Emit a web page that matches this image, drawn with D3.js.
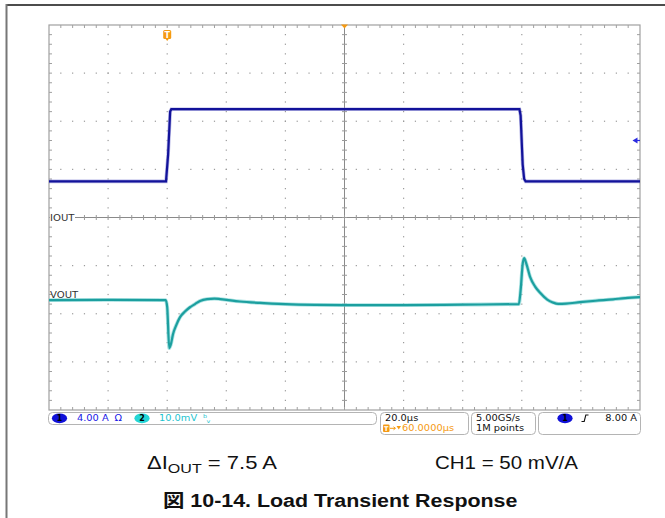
<!DOCTYPE html>
<html>
<head>
<meta charset="utf-8">
<script src="https://cdn.jsdelivr.net/npm/d3@7"></script>
<style>
  html, body { margin: 0; padding: 0; background: #fff; }
  svg { display: block; }
</style>
</head>
<body>
<svg id="chart" width="665" height="518"></svg>
<script>
// ---- Acquisition settings ----
const timePerDiv = 20;            // µs/div
const timeWindow = [-40, 160];    // µs, trigger at t = 0
const ioutPerDiv = 5;             // A/div (50 mV/A probe)
const voutPerDiv = 10;            // mV/div
const voutRefDiv = -1.715;        // VOUT reference position, divisions from centre
const triggerLevel = 8.0;         // A

// ---- CH1: load current step (A) ----
const ioutTime = [-40, -0.4, 0.3, 1.0, 1.4, 119.2, 119.6, 120.3, 120.8, 121.3, 160];
const ioutAmps = [3.75, 3.75, 6.5, 11.0, 11.25, 11.25, 10.6, 5.5, 4.0, 3.75, 3.75];

// ---- CH2: output voltage deviation (mV, AC) ----
const voutTime = [-40, -20, -0.5, 0, 0.7, 1.2, 2.0, 3.0, 4.3, 6.0, 7.7, 9.5, 11.1, 13.5, 16, 18,
                  24.6, 31.4, 40, 50, 60, 80, 100, 119, 119.6, 120.3, 120.8, 121.5, 122.8, 124.5,
                  126.2, 128.6, 130.5, 132.3, 135, 139.7, 145, 150.9, 155, 160];
const voutMv   = [0, 0.05, 0, -1.5, -10.0, -9.3, -7.0, -5.3, -3.6, -2.4, -1.5, -0.8, -0.2, 0.2, 0.3, 0.2,
                  -0.3, -0.6, -0.85, -1.0, -1.05, -1.05, -0.95, -0.85, 2.0, 7.5, 8.7, 7.6, 4.8, 2.8,
                  1.5, 0.1, -0.5, -0.8, -0.75, -0.45, -0.15, 0.15, 0.4, 0.6];

// ---- Readout texts ----
const ch1Scale = "4.00 A";
const ch2Scale = "10.0mV";
const horizScale = "20.0µs";
const trigDelay = "60.0000µs";
const sampleRate = "5.00GS/s";
const recordLen = "1M points";
const trigReadout = "8.00 A";
const caption1 = ["ΔI", "OUT", " = 7.5 A"];
const caption2 = "CH1 = 50 mV/A";
const title = "図 10-14. Load Transient Response";

// ---- Layout ----
const svg = d3.select("#chart");
const box = { left: 49, right: 640, top: 25, bottom: 410 };
const nx = 10, ny = 8, minor = 5;
const SX = 1.23;   // horizontal stretch of the screen readouts
const CSX = 1.19;  // horizontal stretch of the captions

const x = d3.scaleLinear().domain(timeWindow).range([box.left, box.right]);
const yI = d3.scaleLinear().domain([-ny / 2 * ioutPerDiv, ny / 2 * ioutPerDiv]).range([box.bottom, box.top]);
const yV = d3.scaleLinear()
  .domain([(-ny / 2 - voutRefDiv) * voutPerDiv, (ny / 2 - voutRefDiv) * voutPerDiv])
  .range([box.bottom, box.top]);

// Page frame
svg.append("line").attr("x1", 6).attr("x2", 665).attr("y1", 5).attr("y2", 5)
  .attr("stroke", "#111").attr("stroke-width", 1.6);
svg.append("line").attr("x1", 6.5).attr("x2", 6.5).attr("y1", 4).attr("y2", 518)
  .attr("stroke", "#777").attr("stroke-width", 2);

// ---- Graticule ----
const grid = svg.append("g");
const divTimes = d3.range(nx + 1).map(i => timeWindow[0] + i * timePerDiv);
const minorTimes = d3.range(nx * minor + 1).map(i => timeWindow[0] + i * timePerDiv / minor);
const divAmps = d3.range(ny + 1).map(j => -ny / 2 * ioutPerDiv + j * ioutPerDiv);
const minorAmps = d3.range(ny * minor + 1).map(j => -ny / 2 * ioutPerDiv + j * ioutPerDiv / minor);
const tCenter = (timeWindow[0] + timeWindow[1]) / 2;

// dotted division lines
divTimes.slice(1, -1).filter(t => t !== tCenter).forEach(t => {
  grid.selectAll(null).data(minorAmps.slice(1, -1)).join("rect")
    .attr("x", x(t) - 0.6).attr("y", a => yI(a) - 0.6).attr("width", 1.2).attr("height", 1.2)
    .attr("fill", "#9a9a9a");
});
divAmps.slice(1, -1).filter(a => a !== 0).forEach(a => {
  grid.selectAll(null).data(minorTimes.slice(1, -1)).join("rect")
    .attr("x", t => x(t) - 0.6).attr("y", yI(a) - 0.6).attr("width", 1.2).attr("height", 1.2)
    .attr("fill", "#9a9a9a");
});

// centre cross with minor ticks
grid.append("line").attr("x1", box.left).attr("x2", box.right).attr("y1", yI(0)).attr("y2", yI(0))
  .attr("stroke", "#8a8a8a").attr("stroke-width", 1);
grid.append("line").attr("x1", x(tCenter)).attr("x2", x(tCenter)).attr("y1", box.top).attr("y2", box.bottom)
  .attr("stroke", "#8a8a8a").attr("stroke-width", 1);
grid.selectAll(null).data(minorTimes.slice(1, -1)).join("line")
  .attr("x1", t => x(t)).attr("x2", t => x(t))
  .attr("y1", yI(0) - 2.5).attr("y2", yI(0) + 2.5)
  .attr("stroke", "#9a9a9a").attr("stroke-width", 1);
grid.selectAll(null).data(minorAmps.slice(1, -1)).join("line")
  .attr("x1", x(tCenter) - 2.5).attr("x2", x(tCenter) + 2.5)
  .attr("y1", a => yI(a)).attr("y2", a => yI(a))
  .attr("stroke", "#9a9a9a").attr("stroke-width", 1);

// outer border with inward ticks
grid.append("rect").attr("x", box.left).attr("y", box.top)
  .attr("width", box.right - box.left).attr("height", box.bottom - box.top)
  .attr("fill", "none").attr("stroke", "#a0a0a0").attr("stroke-width", 1.2);
grid.selectAll(null).data(minorTimes.slice(1, -1)).join("line")
  .attr("x1", t => x(t)).attr("x2", t => x(t))
  .attr("y1", box.top).attr("y2", box.top + 3)
  .attr("stroke", "#a0a0a0");
grid.selectAll(null).data(minorTimes.slice(1, -1)).join("line")
  .attr("x1", t => x(t)).attr("x2", t => x(t))
  .attr("y1", box.bottom).attr("y2", box.bottom - 3)
  .attr("stroke", "#a0a0a0");
grid.selectAll(null).data(minorAmps.slice(1, -1)).join("line")
  .attr("x1", box.left).attr("x2", box.left + 3)
  .attr("y1", a => yI(a)).attr("y2", a => yI(a))
  .attr("stroke", "#a0a0a0");
grid.selectAll(null).data(minorAmps.slice(1, -1)).join("line")
  .attr("x1", box.right).attr("x2", box.right - 3)
  .attr("y1", a => yI(a)).attr("y2", a => yI(a))
  .attr("stroke", "#a0a0a0");

// helper: stretched text
function stext(g, px, py, str, size, color, opts = {}) {
  const t = g.append("text")
    .attr("transform", `translate(${px},${py}) scale(${opts.sx || SX},1)`)
    .attr("font-family", opts.family || "'DejaVu Sans', sans-serif")
    .attr("font-size", size)
    .attr("font-weight", opts.weight || "normal")
    .attr("fill", color)
    .attr("text-anchor", opts.anchor || "start");
  if (str !== null) t.text(str);
  return t;
}

// channel reference labels
const labels = svg.append("g");
labels.append("rect").attr("x", box.left + 1).attr("y", yI(0) - 5).attr("width", 25).attr("height", 10).attr("fill", "#fff");
stext(labels, 50, yI(0) + 3.2, "IOUT", 8.2, "#333");
stext(labels, 50, yV(0) - 2.5, "VOUT", 8.2, "#333");

// ---- Traces ----
const iLine = d3.line().x(d => x(d[0])).y(d => yI(d[1]));
const vLine = d3.line().x(d => x(d[0])).y(d => yV(d[1])).curve(d3.curveMonotoneX);
const iData = ioutTime.map((t, k) => [t, ioutAmps[k]]);
const vData = voutTime.map((t, k) => [t, voutMv[k]]);

const traces = svg.append("g");
traces.append("path").datum(iData).attr("d", iLine)
  .attr("fill", "none").attr("stroke", "#7a7ad0").attr("stroke-width", 3.6).attr("stroke-opacity", 0.55);
traces.append("path").datum(iData).attr("d", iLine)
  .attr("fill", "none").attr("stroke", "#12129a").attr("stroke-width", 2.2);
traces.append("path").datum(vData).attr("d", vLine)
  .attr("fill", "none").attr("stroke", "#6fcfcf").attr("stroke-width", 3.8).attr("stroke-opacity", 0.6);
traces.append("path").datum(vData).attr("d", vLine)
  .attr("fill", "none").attr("stroke", "#1c9f9f").attr("stroke-width", 2.2);

// ---- Markers ----
const orange = "#f59a12";
const mk = svg.append("g");
// trigger position (top centre)
mk.append("path")
  .attr("d", `M${x(tCenter) - 3.5},${box.top - 0.5} L${x(tCenter) + 3.5},${box.top - 0.5} L${x(tCenter)},${box.top + 3.5} Z`)
  .attr("fill", orange);
// trigger point "T"
mk.append("rect").attr("x", x(0) - 4).attr("y", 30).attr("width", 8).attr("height", 9).attr("rx", 1.5).attr("fill", orange);
mk.append("path").attr("d", `M${x(0) - 1.5},39 L${x(0) + 1.5},39 L${x(0)},41 Z`).attr("fill", orange);
mk.append("text").attr("x", x(0)).attr("y", 37.7).attr("text-anchor", "middle")
  .attr("font-family", "'DejaVu Sans', sans-serif").attr("font-size", 8).attr("font-weight", "bold")
  .attr("fill", "#fff").text("T");
// trigger level arrow
mk.append("path")
  .attr("d", `M${box.right - 7.5},${yI(triggerLevel)} L${box.right - 2.5},${yI(triggerLevel) - 3} L${box.right - 2.5},${yI(triggerLevel) + 3} Z`)
  .attr("fill", "#2a2ae0");
mk.append("line").attr("x1", box.right - 3).attr("x2", box.right).attr("y1", yI(triggerLevel)).attr("y2", yI(triggerLevel))
  .attr("stroke", "#2a2ae0").attr("stroke-width", 1.2);

// ---- Readout bar ----
const rb = svg.append("g");
const blue = "#1616e6", cyan = "#1cc4cf";
function panel(x0, x1, y0, y1) {
  rb.append("rect").attr("x", x0 + 0.5).attr("y", y0 + 0.5).attr("width", x1 - x0).attr("height", y1 - y0)
    .attr("rx", 4).attr("fill", "#fff").attr("stroke", "#b4b4b4").attr("stroke-width", 1);
}
panel(48, 376, 412, 424);
panel(380, 468, 412, 434);
panel(471, 535, 412, 434);
panel(538, 640, 412, 434);

function badge(cx, cy, num, fill) {
  rb.append("ellipse").attr("cx", cx).attr("cy", cy).attr("rx", 7.6).attr("ry", 4.9).attr("fill", fill);
  rb.append("text").attr("x", cx).attr("y", cy + 3).attr("text-anchor", "middle")
    .attr("font-family", "'DejaVu Sans', sans-serif").attr("font-size", 8).attr("font-weight", "bold")
    .attr("fill", "#000").text(num);
}
badge(59.5, 418.3, "1", "#1010d8");
stext(rb, 77, 421.3, ch1Scale, 8, blue);
stext(rb, 114.5, 421.3, "Ω", 8, blue);
badge(142, 418.3, "2", "#25d6d6");
stext(rb, 159, 421.3, ch2Scale, 8, cyan);
stext(rb, 203, 418, "b", 5.2, cyan);
stext(rb, 206.5, 422.5, "v", 5.2, cyan);

stext(rb, 385, 421, horizScale, 8, "#111");
rb.append("rect").attr("x", 383).attr("y", 424.5).attr("width", 6.5).attr("height", 7.5).attr("rx", 1).attr("fill", orange);
rb.append("text").attr("x", 386.25).attr("y", 431).attr("text-anchor", "middle")
  .attr("font-family", "'DejaVu Sans', sans-serif").attr("font-size", 6.5).attr("font-weight", "bold")
  .attr("fill", "#fff").text("T");
rb.append("path").attr("d", "M390,428.3 L395,428.3").attr("stroke", orange).attr("stroke-width", 1);
rb.append("path").attr("d", "M393.5,426.8 L395.5,428.3 L393.5,429.8").attr("stroke", orange).attr("fill", "none").attr("stroke-width", 1);
rb.append("path").attr("d", "M396.5,426 L401,426 L398.75,429.5 Z").attr("fill", orange);
stext(rb, 402, 431.2, trigDelay, 8, orange);

stext(rb, 476, 421, sampleRate, 8, "#111");
stext(rb, 476, 431.2, recordLen, 8, "#111");

badge(565, 418.3, "1", "#1010d8");
rb.append("path").attr("d", "M581.5,421.5 L584.2,421.5 L585.8,415 L588.5,415")
  .attr("stroke", "#111").attr("stroke-width", 1.1).attr("fill", "none");
stext(rb, 637, 421.3, trigReadout, 8, "#111", { anchor: "end" });

// ---- Captions ----
const cap = svg.append("g");
const capFont = "'Liberation Sans', Arial, sans-serif";
const c1 = stext(cap, 147, 468.5, null, 18.5, "#111", { family: capFont, sx: CSX });
c1.append("tspan").text(caption1[0]);
c1.append("tspan").attr("font-size", 13.5).attr("dy", 4).text(caption1[1]);
c1.append("tspan").attr("dy", -4).text(caption1[2]);
stext(cap, 578, 468.5, caption2, 18, "#111", { family: capFont, anchor: "end", sx: 1.14 });
stext(cap, 163, 507, title, 18, "#111", { family: "'Liberation Sans', 'Noto Sans CJK JP', Arial, sans-serif", weight: "bold", sx: CSX });
</script>
</body>
</html>
